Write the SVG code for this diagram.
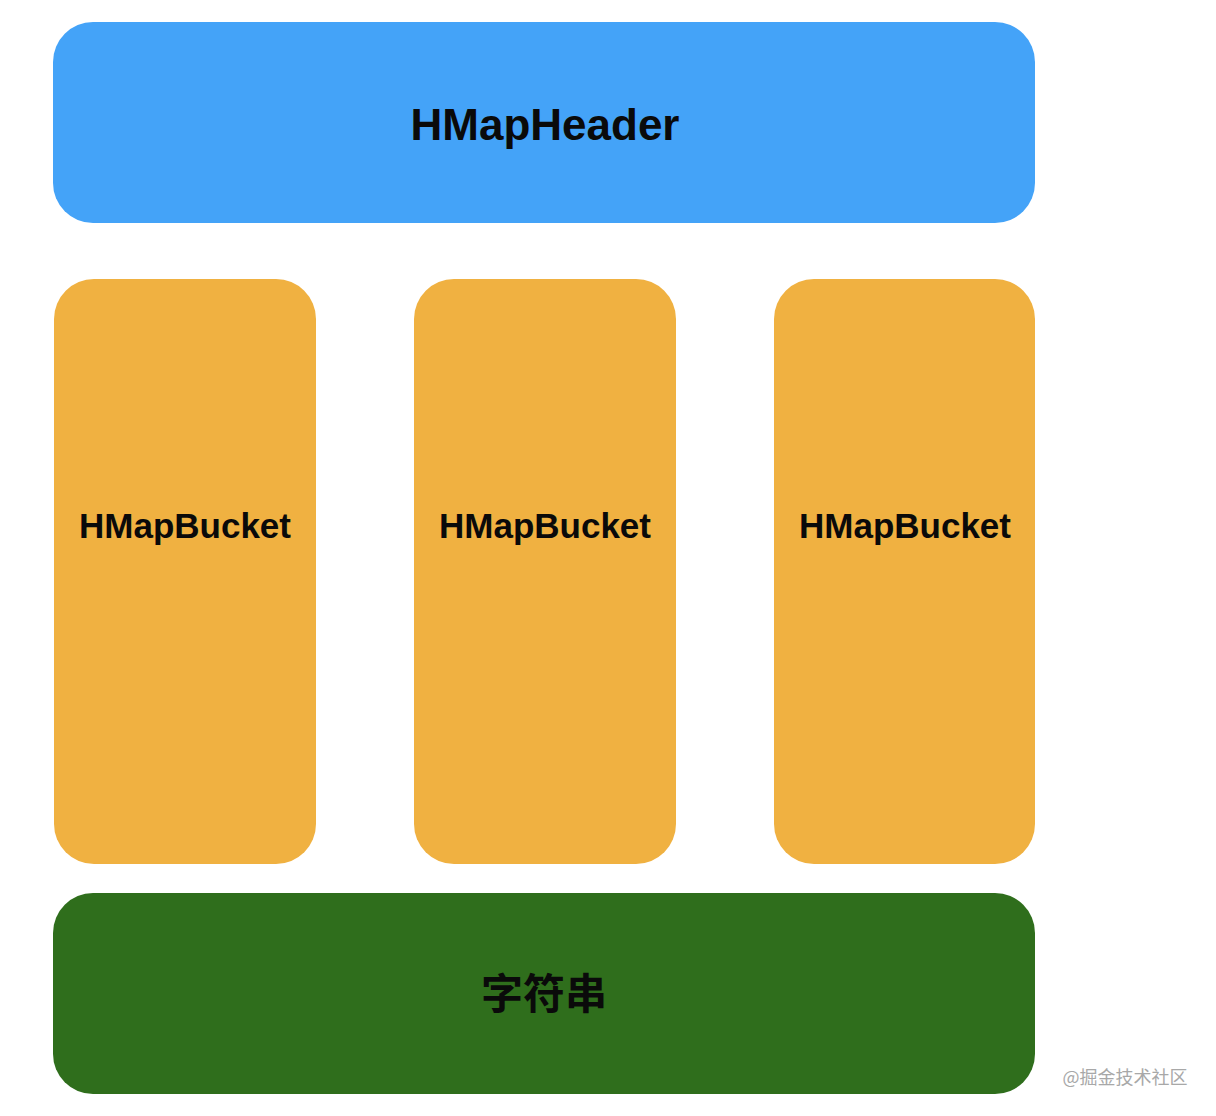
<svg xmlns="http://www.w3.org/2000/svg" width="1216" height="1116" viewBox="0 0 1216 1116">
<style>
.lbl{font-family:"Liberation Sans",Arial,"Noto Sans CJK SC",sans-serif;font-weight:bold;fill:#0a0a0a;text-anchor:middle}
.cjk{font-family:"Noto Sans CJK SC","Liberation Sans",sans-serif;font-weight:bold;fill:#0a0a0a;text-anchor:middle}
.bucket{fill:#F0B141}
</style>
<rect width="1216" height="1116" fill="#ffffff"/>
<g id="header">
<rect x="53" y="22" width="982" height="201" rx="40" ry="40" fill="#44A3F8"/>
<text class="lbl" x="545" y="140" font-size="44">HMapHeader</text>
</g>
<g id="bucket1">
<rect class="bucket" x="54" y="279" width="262" height="585" rx="40" ry="40"/>
<text class="lbl" x="185" y="538" font-size="35">HMapBucket</text>
</g>
<g id="bucket2">
<rect class="bucket" x="414" y="279" width="262" height="585" rx="40" ry="40"/>
<text class="lbl" x="545" y="538" font-size="35">HMapBucket</text>
</g>
<g id="bucket3">
<rect class="bucket" x="774" y="279" width="261" height="585" rx="40" ry="40"/>
<text class="lbl" x="905" y="538" font-size="35">HMapBucket</text>
</g>
<g id="strings">
<rect x="53" y="893" width="982" height="201" rx="40" ry="40" fill="#2F6E1C"/>
<text class="cjk" x="544" y="1009" font-size="42">字符串</text>
</g>
<g id="connectors"></g>
<text x="1125" y="1084" font-family="'Noto Sans CJK SC',sans-serif" font-size="18" fill="#a8a8a8" text-anchor="middle">@掘金技术社区</text>
</svg>
